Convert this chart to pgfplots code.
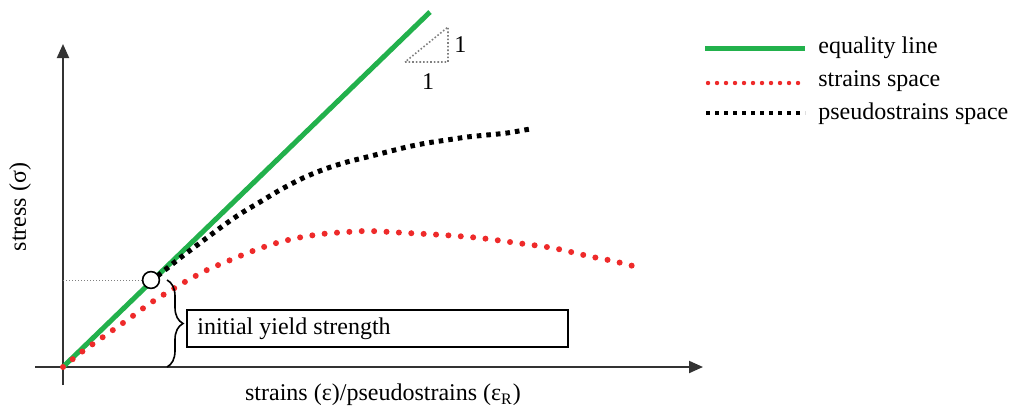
\documentclass[border=0pt]{standalone}
\usepackage{pgfplots}
\pgfplotsset{compat=1.18}
\usepackage{fontspec}
\setmainfont{Liberation Serif}
\newfontfamily\labelfont{Liberation Serif}
\usetikzlibrary{arrows.meta,decorations.pathreplacing}

\definecolor{eqgreen}{HTML}{22B14C}
\definecolor{strred}{HTML}{EE2A2A}
\definecolor{axgray}{HTML}{333333}

\begin{document}
\begin{tikzpicture}
\begin{axis}[
  scale only axis,
  width=505.5pt, height=204.5pt,
  xmin=-63, xmax=948, ymin=-42, ymax=367,
  hide axis, clip=false,
  font=\labelfont\fontsize{12}{14}\selectfont,
]
% keep the full canvas as the bounding box
\path (rel axis cs:0,0) rectangle (rel axis cs:1,1);

% coordinate axes
\draw[axgray, line width=1pt, -{Triangle[length=7pt,width=6pt]}] (axis cs:-28,0) -- (axis cs:640,0);
\draw[axgray, line width=1pt, -{Triangle[length=7pt,width=6pt]}] (axis cs:0,-18) -- (axis cs:0,323);

% yield level guide
\draw[gray, line width=0.5pt, densely dotted] (axis cs:0,87) -- (axis cs:80,87);

% equality line
\addplot[eqgreen, line width=2.5pt] coordinates {(0,0) (367,355)};

% strains space
\addplot[strred, line width=3pt, line cap=round, dash pattern=on 0pt off 6.2pt, smooth] coordinates {
 (0,0) (20,16) (40,30) (67,49) (89,65) (120,84) (144,97) (165,106) (187,115)
 (210,123) (234,129) (259,133) (284,135) (307,136) (344,134) (380,132)
 (417,129) (454,124) (490,119) (525,111) (550,106) (574,100)};

% pseudostrains space
\addplot[black, line width=2.5pt, dash pattern=on 2.3pt off 2.5pt, smooth] coordinates {
 (87,85) (97,93) (117,109) (137,124) (157,139) (177,153) (197,165) (217,177)
 (240,189) (262,198) (284,205) (304,210) (324,215) (344,220) (364,224)
 (384,227) (404,230) (424,232) (444,234) (467,238)};

% initial yield point
\addplot[only marks, mark=*, mark size=4.2pt, mark options={fill=white, draw=black, line width=0.8pt}] coordinates {(88,87)};

% brace and label box
\draw[black, line width=0.8pt, decorate, decoration={brace, amplitude=8pt}] (axis cs:104,87) -- (axis cs:104,0);
\draw[black, line width=1pt] (axis cs:124,20) rectangle (axis cs:505,57);
\node[anchor=west, inner sep=0pt] at (axis cs:134,38.5) {initial yield strength};

% slope triangle
\draw[gray, line width=0.8pt, densely dotted] (axis cs:342,305) -- (axis cs:385,305) -- (axis cs:385,340) -- cycle;
\node[anchor=west, inner sep=0pt] at (axis cs:391,322) {1};
\node[inner sep=0pt] at (axis cs:365,285) {1};

% axis titles
\node[rotate=90, inner sep=0pt] at (axis cs:-43,160) {stress (σ)};
\node[inner sep=0pt] at (axis cs:320,-28) {strains (ε)/pseudostrains (ε\textsubscript{R})};

% key
\addplot[eqgreen, line width=2.5pt] coordinates {(642,319) (742,319)};
\addplot[strred, line width=2.2pt, line cap=round, dash pattern=on 0pt off 4.5pt] coordinates {(645,284) (738,284)};
\addplot[black, line width=2.2pt, dash pattern=on 2pt off 2.5pt] coordinates {(643,254) (742,254)};
\node[anchor=west, inner sep=0pt] at (axis cs:755,319) {equality line};
\node[anchor=west, inner sep=0pt] at (axis cs:755,286) {strains space};
\node[anchor=west, inner sep=0pt] at (axis cs:755,253) {pseudostrains space};
\end{axis}
\end{tikzpicture}
\end{document}
